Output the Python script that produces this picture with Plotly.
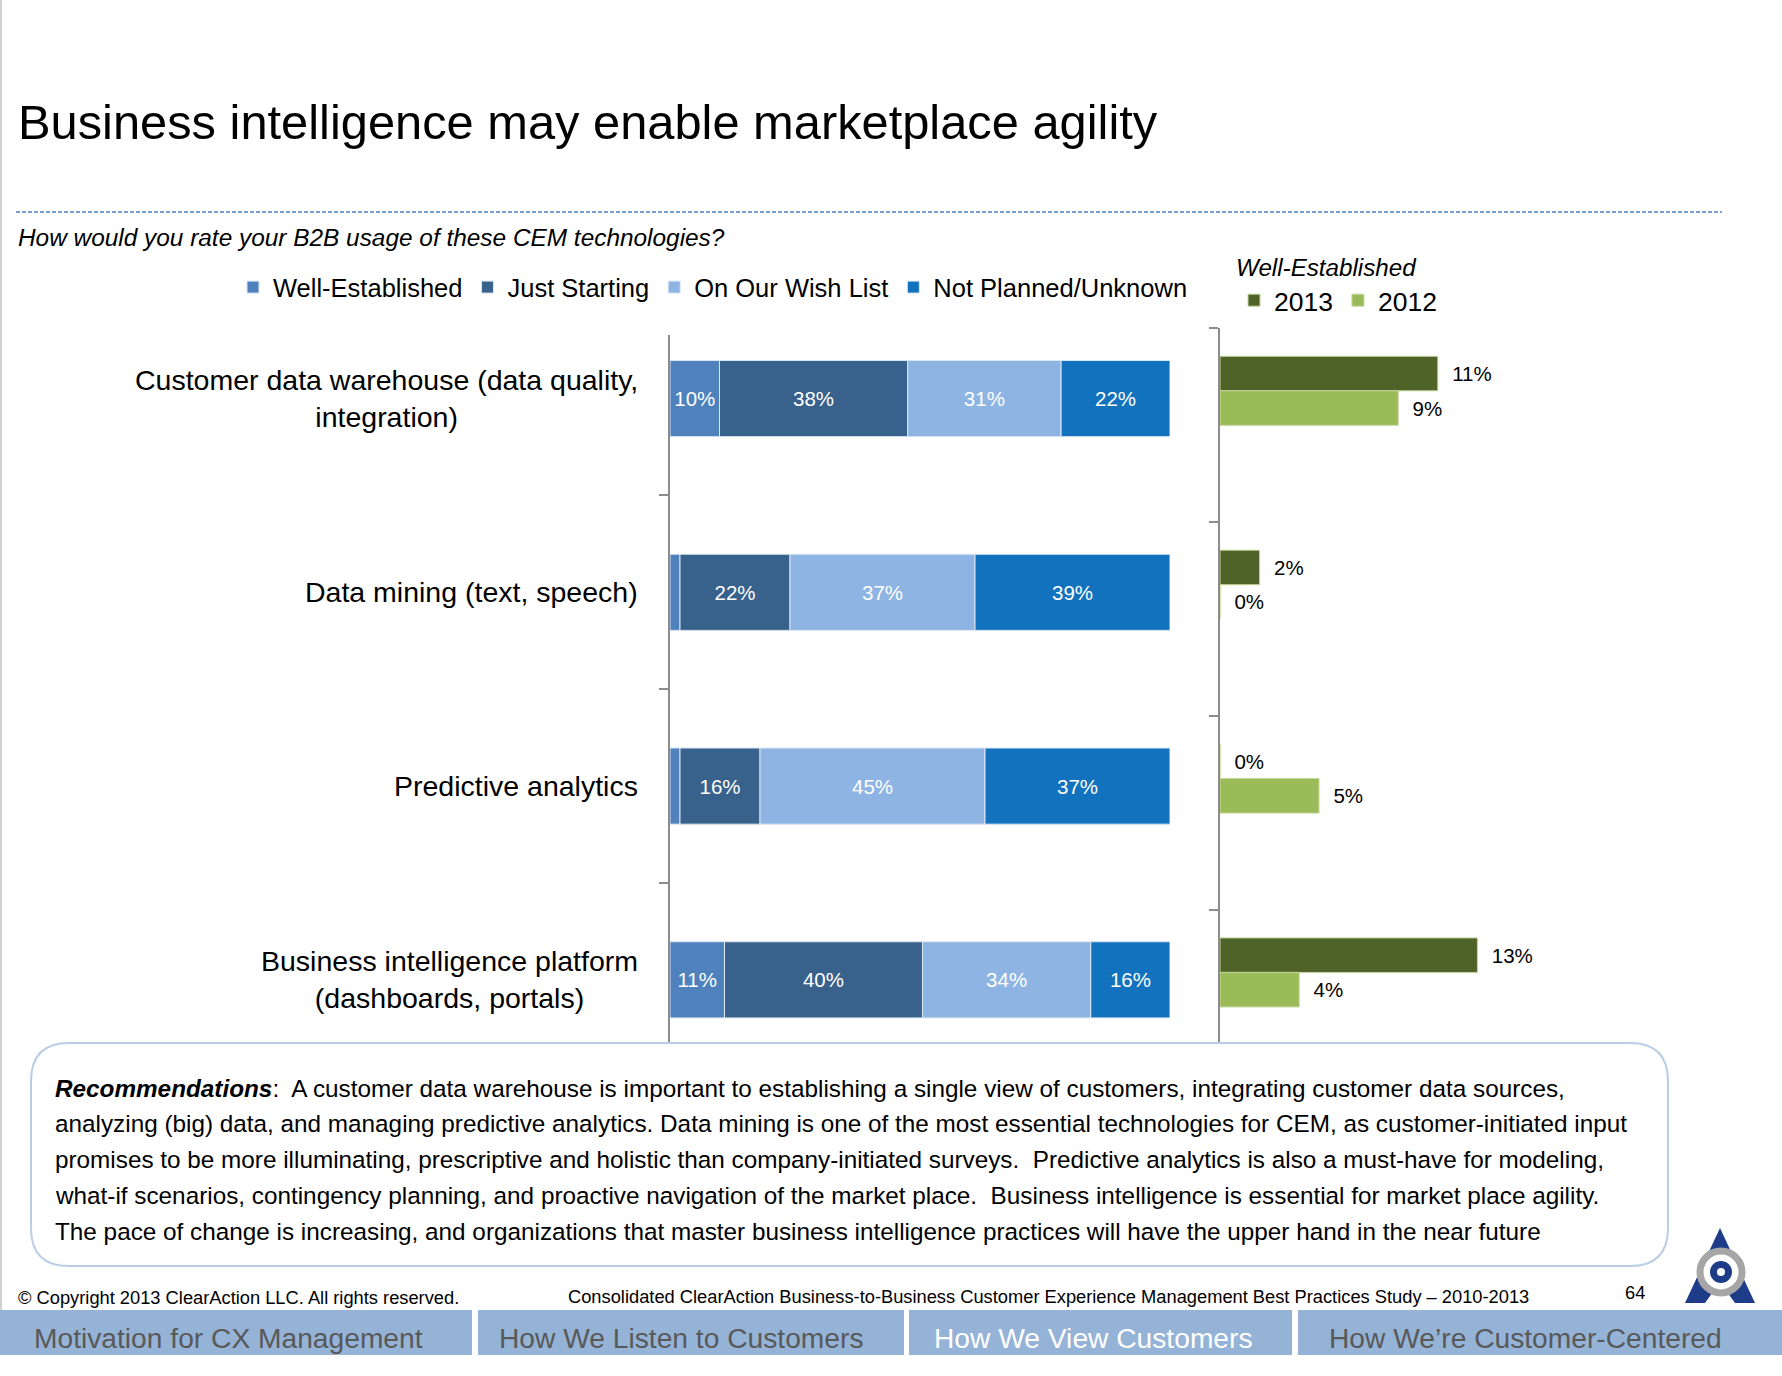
import plotly.graph_objects as go
import numpy as np

W, H = 1782, 1376
FONT = "Liberation Sans, Arial, sans-serif"

# ---------------- data ----------------
cat_keys = ["Customer data warehouse", "Data mining", "Predictive analytics",
            "Business intelligence platform"]
cat_labels = ["Customer data warehouse (data quality,<br>integration)",
              "Data mining (text, speech)",
              "Predictive analytics",
              "Business intelligence platform<br>(dashboards, portals)"]

series_names = ["Well-Established", "Just Starting", "On Our Wish List", "Not Planned/Unknown"]
well_established = [10, 2, 2, 11]
just_starting = [38, 22, 16, 40]
wish_list = [31, 37, 45, 34]
not_planned = [22, 39, 37, 16]
series_colors = ["#4F81BD", "#38618C", "#8EB4E3", "#1272BE"]

years = ["2013", "2012"]
we_2013 = [11, 2, 0, 13]
we_2012 = [9, 0, 5, 4]
year_colors = ["#4F6228", "#9BBB59"]


def X(p):
    return p / W


def Y(p):
    return 1 - p / H


fig = go.Figure()

# ---------------- left: 100% stacked bars ----------------
series_vals = np.array([well_established, just_starting, wish_list, not_planned], dtype=float)
totals = series_vals.sum(axis=0)
shares = series_vals / totals * 100
bases = np.vstack([np.zeros(len(cat_keys)), np.cumsum(shares, axis=0)[:-1]])

for i, name in enumerate(series_names):
    raw = series_vals[i]
    fig.add_trace(go.Bar(
        y=cat_keys, x=shares[i], base=bases[i], orientation="h", name=name,
        width=0.393,
        marker=dict(color=series_colors[i], line=dict(color="#DCE6F2", width=1)),
        text=[f"{int(v)}%" if v >= 5 else "" for v in raw],
        textposition="inside", insidetextanchor="middle", textangle=0,
        constraintext="none",
        textfont=dict(color="white", size=20.5, family=FONT),
        xaxis="x", yaxis="y", legend="legend", hoverinfo="skip",
    ))

# ---------------- right: well-established by year ----------------
for vals, yr, col, off in [(we_2013, years[0], year_colors[0], -0.356),
                           (we_2012, years[1], year_colors[1], -0.178)]:
    fig.add_trace(go.Bar(
        y=cat_keys, x=vals, orientation="h", name=yr,
        width=0.178, offset=off,
        marker=dict(color=col, line=dict(color="#C3D69B", width=1)),
        text=[f"\u00a0\u00a0{v}%" for v in vals],
        textposition="outside", cliponaxis=False,
        textfont=dict(color="black", size=20.5, family=FONT),
        xaxis="x2", yaxis="y2", legend="legend2", hoverinfo="skip",
    ))

axis_common = dict(type="category", categoryorder="array", categoryarray=cat_keys,
                   showline=True, linecolor="#8C8C8C", linewidth=2,
                   ticks="outside", ticklen=9, tickcolor="#8C8C8C", tickwidth=2,
                   tickson="boundaries", showticklabels=False,
                   showgrid=False, zeroline=False, fixedrange=True)

fig.update_layout(
    width=W, height=H, margin=dict(l=0, r=0, t=0, b=0),
    paper_bgcolor="white", plot_bgcolor="rgba(0,0,0,0)",
    barmode="overlay", showlegend=True,
    font=dict(family=FONT, color="black"),
    xaxis=dict(domain=[X(670), X(1170)], range=[0, 100], visible=False, anchor="y"),
    yaxis=dict(domain=[Y(1043), Y(335)], range=[3.326, -0.328], anchor="x", **axis_common),
    xaxis2=dict(domain=[X(1220), X(1220 + 19.8 * 20)], range=[0, 20], visible=False, anchor="y2"),
    yaxis2=dict(domain=[Y(1043), Y(328)], range=[3.186, -0.502], anchor="x2", **axis_common),
    legend=dict(orientation="h", x=X(233), y=Y(264), xanchor="left", yanchor="top",
                font=dict(size=25.5, family=FONT), bgcolor="rgba(255,255,255,0)",
                traceorder="normal", itemclick=False),
    legend2=dict(orientation="h", x=X(1234), y=Y(245), xanchor="left", yanchor="top",
                 font=dict(size=26.5, family=FONT), bgcolor="rgba(255,255,255,0)",
                 title=dict(text="Well-Established", side="top",
                            font=dict(size=24.2, family=FONT, style="italic")),
                 traceorder="normal", itemclick=False),
)

ann = []
ann.append(dict(text="Business intelligence may enable marketplace agility",
                x=X(16), y=Y(122), xanchor="left", yanchor="middle",
                font=dict(size=48.8, family=FONT, color="black")))
ann.append(dict(text="<i>How would you rate your B2B usage of these CEM technologies?</i>",
                x=X(16), y=Y(238), xanchor="left", yanchor="middle",
                font=dict(size=24.4, family=FONT, color="black")))
for k, lab in zip(cat_keys, cat_labels):
    ann.append(dict(text=lab, x=X(640), xref="paper", y=k, yref="y",
                    xanchor="right", yanchor="middle", align="center",
                    font=dict(size=28.5, family=FONT, color="black")))

rec_lines = [
    "<b><i>Recommendations</i></b>:\u00a0 A customer data warehouse is important to establishing a single view of customers, integrating customer data sources,",
    "analyzing (big) data, and managing predictive analytics. Data mining is one of the most essential technologies for CEM, as customer-initiated input",
    "promises to be more illuminating, prescriptive and holistic than company-initiated surveys.\u00a0 Predictive analytics is also a must-have for modeling,",
    "what-if scenarios, contingency planning, and proactive navigation of the market place.\u00a0 Business intelligence is essential for market place agility.",
    "The pace of change is increasing, and organizations that master business intelligence practices will have the upper hand in the near future",
]
for i, line in enumerate(rec_lines):
    ann.append(dict(text=line, x=X(53), y=Y(1088 + i * 35.8), xanchor="left", yanchor="middle",
                    align="left", font=dict(size=24.3, family=FONT, color="black")))

ann.append(dict(text="\u00a9 Copyright 2013 ClearAction LLC. All rights reserved.",
                x=X(16), y=Y(1297), xanchor="left", yanchor="middle",
                font=dict(size=18.3, family=FONT, color="black")))
ann.append(dict(text="Consolidated ClearAction Business-to-Business Customer Experience Management Best Practices Study \u2013 2010-2013",
                x=X(566), y=Y(1296), xanchor="left", yanchor="middle",
                font=dict(size=18.3, family=FONT, color="black")))
ann.append(dict(text="64", x=X(1623), y=Y(1292), xanchor="left", yanchor="middle",
                font=dict(size=18.3, family=FONT, color="black")))

nav = [("Motivation for CX Management", 32, "#595959"),
       ("How We Listen to Customers", 497, "#595959"),
       ("How We View Customers", 932, "white"),
       ("How We\u2019re Customer-Centered", 1327, "#595959")]
for txt, x0, col in nav:
    ann.append(dict(text=txt, x=X(x0), y=Y(1338), xanchor="left", yanchor="middle",
                    font=dict(size=28.2, family=FONT, color=col)))

for a in ann:
    a.setdefault("xref", "paper")
    a.setdefault("yref", "paper")
    a["showarrow"] = False
fig.update_layout(annotations=ann)

shapes = []
# dashed rule
shapes.append(dict(type="line", xref="paper", yref="paper", x0=X(16), x1=X(1722), y0=Y(212), y1=Y(212),
                   line=dict(color="#4F81BD", width=1.5, dash="4px,2px")))
# left slide border
shapes.append(dict(type="line", xref="paper", yref="paper", x0=X(1), x1=X(1), y0=Y(0), y1=Y(1310),
                   line=dict(color="#D0D0D0", width=2)))


def rrect(x0, y0, x1, y1, r):
    return (f"M {X(x0 + r)},{Y(y0)} L {X(x1 - r)},{Y(y0)} Q {X(x1)},{Y(y0)} {X(x1)},{Y(y0 + r)} "
            f"L {X(x1)},{Y(y1 - r)} Q {X(x1)},{Y(y1)} {X(x1 - r)},{Y(y1)} "
            f"L {X(x0 + r)},{Y(y1)} Q {X(x0)},{Y(y1)} {X(x0)},{Y(y1 - r)} "
            f"L {X(x0)},{Y(y0 + r)} Q {X(x0)},{Y(y0)} {X(x0 + r)},{Y(y0)} Z")


shapes.append(dict(type="path", xref="paper", yref="paper", path=rrect(31, 1043, 1668, 1266, 38),
                   fillcolor="white", line=dict(color="#B9CDE5", width=2), layer="above"))
# nav boxes
for x0, x1 in [(0, 472), (478, 904), (909, 1292), (1298, 1782)]:
    shapes.append(dict(type="rect", xref="paper", yref="paper", x0=X(x0), x1=X(x1), y0=Y(1310), y1=Y(1355),
                       fillcolor="#95B3D7", line=dict(width=0), layer="below"))
# logo
navy = "#1F3C88"
shapes.append(dict(type="path", xref="paper", yref="paper",
                   path=(f"M {X(1720)},{Y(1228)} L {X(1755)},{Y(1303)} L {X(1735)},{Y(1303)} "
                         f"L {X(1720)},{Y(1282)} L {X(1705)},{Y(1303)} L {X(1685)},{Y(1303)} Z"),
                   fillcolor=navy, line=dict(width=0), layer="above"))


def circ(cx, cy, r, **kw):
    return dict(type="circle", xref="paper", yref="paper", x0=X(cx - r), x1=X(cx + r),
                y0=Y(cy + r), y1=Y(cy - r), layer="above", **kw)


shapes.append(circ(1721, 1272, 21, fillcolor="white", line=dict(color="#A6A6A6", width=7)))
shapes.append(circ(1721, 1272, 11, fillcolor=navy, line=dict(width=0)))
shapes.append(circ(1721, 1272, 4, fillcolor="white", line=dict(width=0)))
fig.update_layout(shapes=shapes)

fig.write_html("out.html")
